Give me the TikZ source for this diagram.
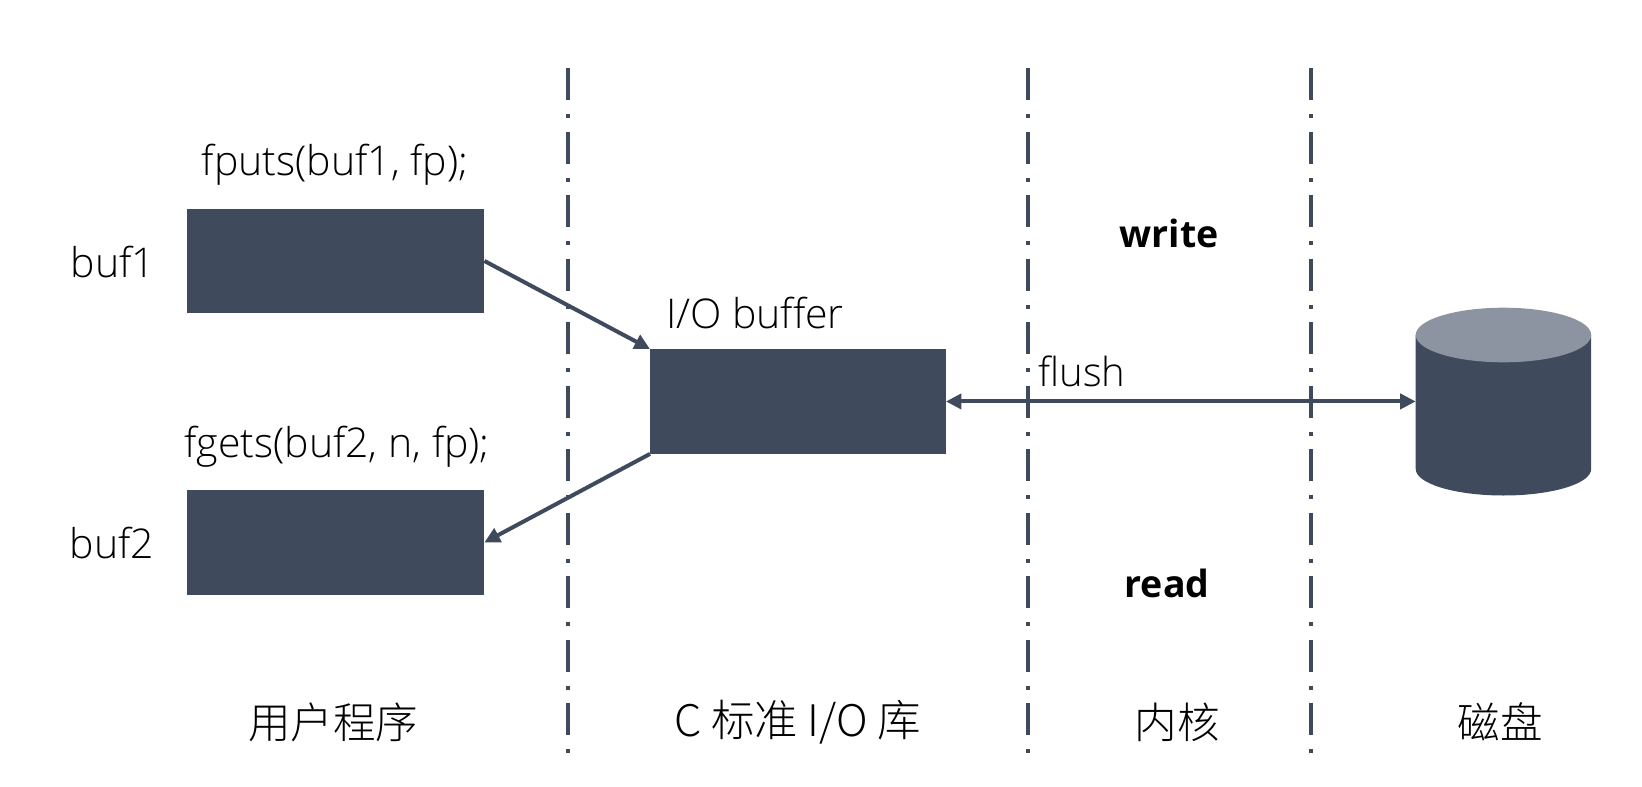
\documentclass[tikz,border=0pt]{standalone}
\usepackage{fontspec}
\setmainfont{Open Sans Light}[BoldFont={Open Sans Bold},Ligatures=NoCommon]
\newfontfamily\cjk{Noto Sans CJK SC Light}
\usetikzlibrary{arrows.meta}
\definecolor{slate}{HTML}{3F4A5D}
\definecolor{slatelight}{HTML}{8C93A1}
\tikzset{
  block/.style={fill=slate,draw=none,inner sep=0pt,minimum width=#1},
  label/.style={inner sep=0pt,anchor=base,text=black,font=\fontsize{41}{44}\selectfont},
  boldlabel/.style={label,font=\fontsize{37.5}{40}\selectfont\bfseries},
  cjklabel/.style={inner sep=0pt,text=black,font=\fontsize{42.5}{44}\selectfont\cjk},
  divider/.style={draw=slate,line width=4pt,dash pattern=on 32pt off 14pt on 4pt off 13.5pt},
  link/.style={draw=slate,line width=4pt,-{Triangle[length=15.5pt,width=15pt]}},
  dbllink/.style={draw=slate,line width=4pt,{Triangle[length=15.5pt,width=15pt]}-{Triangle[length=15.5pt,width=15pt]}}
}
\begin{document}
\begin{tikzpicture}[x=1pt,y=-1pt]
\useasboundingbox (0,0) rectangle (1642,787);
% dividers
\coordinate (d1t) at (568,68); \coordinate (d1b) at (568,756);
\coordinate (d2t) at (1027.5,68); \coordinate (d2b) at (1027.5,756);
\coordinate (d3t) at (1310.5,68); \coordinate (d3b) at (1310.5,756);
\draw[divider] (d1t) -- (d1b);
\draw[divider] (d2t) -- (d2b);
\draw[divider] (d3t) -- (d3b);
% blocks
\node[block=297pt,minimum height=104.5pt,anchor=north west] (buf1) at (187,208.5) {};
\node[block=297pt,minimum height=104.5pt,anchor=north west] (buf2) at (187,490) {};
\node[block=295.5pt,minimum height=104.5pt,anchor=north west] (io) at (650,349) {};
% disk
\node[inner sep=0pt,minimum width=175.5pt,minimum height=187.5pt,anchor=north west] (disk) at (1415.7,307.5) {};
\fill[slate] (1415.7,335) -- (1415.7,469) arc[start angle=180,end angle=0,x radius=87.75pt,y radius=-26.5pt] -- (1591.2,335) -- cycle;
\fill[slatelight] (1503.45,335) ellipse[x radius=87.75pt,y radius=27.3pt];
% connectors
\draw[link] (buf1.east) -- (io.north west);
\draw[link] (io.south west) -- (buf2.east);
\draw[dbllink] (io.east) -- (disk.west);
% labels
\node[label] (t1) at (335,175) {fputs(buf1, fp);};
\node[label] (t2) at (113,277) {buf1};
\node[label] (t3) at (337,457) {fgets(buf2, n, fp);};
\node[label] (t4) at (112,558) {buf2};
\node[label] (t5) at (755,328) {I/O buffer};
\node[label,font=\fontsize{40}{44}\selectfont] (t6) at (1082,386) {flush};
\node[boldlabel] (t7) at (1169,247) {write};
\node[boldlabel] (t8) at (1167,597) {read};
\node[cjklabel] (t9) at (333,722) {用户程序};
\node[cjklabel,font=\fontsize{43.5}{44}\selectfont\cjk] (t10) at (797.5,722) {C 标准 I/O 库};
\node[cjklabel] (t11) at (1177,722) {内核};
\node[cjklabel] (t12) at (1500,722) {磁盘};
\end{tikzpicture}
\end{document}
